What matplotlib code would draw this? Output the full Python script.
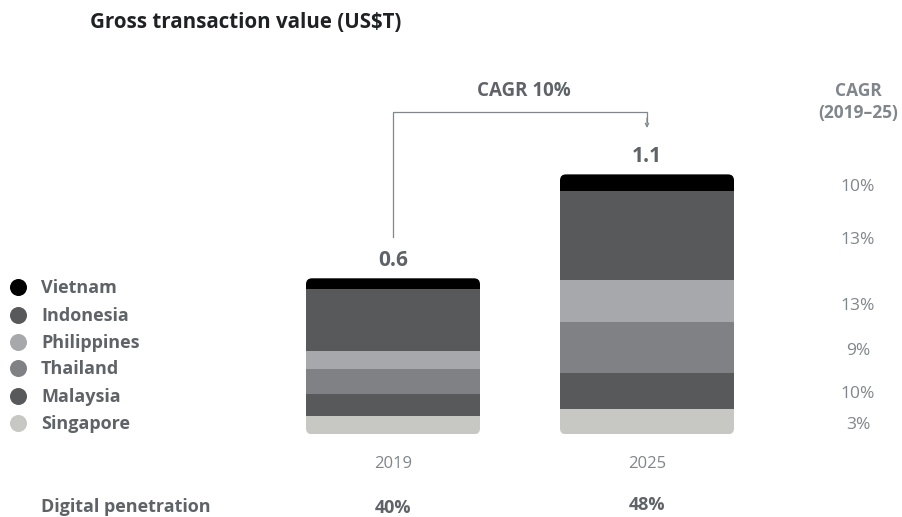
import matplotlib
matplotlib.use("Agg")
import matplotlib.pyplot as plt
from matplotlib.patches import FancyBboxPatch
import numpy as np

plt.rcParams['font.family'] = ['Open Sans', 'DejaVu Sans']

# ---- data ----
years = ["2019", "2025"]
countries = ["Singapore", "Malaysia", "Thailand", "Philippines", "Indonesia", "Vietnam"]  # bottom -> top
gtv_2019 = [0.076, 0.092, 0.104, 0.075, 0.258, 0.045]
gtv_2025 = [0.105, 0.151, 0.211, 0.175, 0.371, 0.070]
total_labels = ["0.6", "1.1"]
cagr_by_country = ["3%", "10%", "9%", "13%", "13%", "10%"]  # bottom -> top
overall_cagr = "CAGR 10%"
penetration = ["40%", "48%"]
colors = ["#c7c8c4", "#58595b", "#808184", "#a7a8ab", "#58595b", "#000000"]

W, H = 903, 517
fig = plt.figure(figsize=(W / 100, H / 100), dpi=100)
ax = fig.add_axes([0, 0, 1, 1])

# pixel mapping: x centers at 393 and 647 px, y=0 at 434.3 px from top, 240 px per unit
px_per_x = 254.0
px_per_y = 240.0
x0_px, y0_px = 393.0, 434.3
ax.set_xlim(-x0_px / px_per_x, (W - x0_px) / px_per_x)
ax.set_ylim(-(H - y0_px) / px_per_y, y0_px / px_per_y)
ax.axis("off")

def px(xp, yp):
    """convert pixel (from top-left) to data coords"""
    return ((xp - x0_px) / px_per_x, (y0_px - yp) / px_per_y)

xs = np.arange(len(years))
width = 174 / px_per_x
series = np.array([gtv_2019, gtv_2025]).T  # countries x years

bottoms = np.zeros(len(years))
bar_groups = []
for i, c in enumerate(countries):
    bars = ax.bar(xs, series[i], width, bottom=bottoms, color=colors[i], linewidth=0)
    bar_groups.append(bars)
    bottoms = bottoms + series[i]
totals = bottoms

# rounded clip per stacked bar
r = 6 / px_per_x
for j, x in enumerate(xs):
    clip = FancyBboxPatch((x - width / 2, 0), width, totals[j],
                          boxstyle=f"round,pad=0,rounding_size={r}",
                          mutation_aspect=px_per_x / px_per_y,
                          transform=ax.transData, facecolor="none", edgecolor="none")
    ax.add_patch(clip)
    for bars in bar_groups:
        bars[j].set_clip_path(clip)

dark = "#5f6368"
light = "#80868b"

# total labels
for j, x in enumerate(xs):
    ax.text(x, totals[j] + 18 / px_per_y, total_labels[j], ha="center", va="center",
            fontsize=15, fontweight="bold", color=dark)

# CAGR bracket
lx, ly = px(393, 237)
tx, ty = px(393, 111.5)
rx, ry = px(647, 111.5)
ax.plot([lx, tx, rx, rx], [ly, ty, ry, ry - 10 / px_per_y], color=light, lw=0.9,
        solid_joinstyle="miter")
ax.annotate("", xy=px(647, 128), xytext=px(647, 118),
            arrowprops=dict(arrowstyle="->", color=light, lw=0.9, shrinkA=0, shrinkB=0,
                            mutation_scale=6))
ax.text(*px(524, 91), overall_cagr, ha="center", va="center", fontsize=13.5,
        fontweight="bold", color=dark)

# title
ax.text(*px(90, 23), "Gross transaction value (US$T)", ha="left", va="center",
        fontsize=14.8, fontweight="bold", color="#202124")

# right column
ax.text(*px(858, 91), "CAGR", ha="center", va="center", fontsize=12.5,
        fontweight="bold", color=light)
ax.text(*px(858, 113), "(2019–25)", ha="center", va="center", fontsize=12.5,
        fontweight="bold", color=light)
cagr_y_px = [425, 394, 351, 306, 240, 187]
for lab, yp in zip(cagr_by_country, cagr_y_px):
    ax.text(*px(858, yp), lab, ha="center", va="center", fontsize=12.5, color=light)

# legend (top -> bottom)
leg_y = [287, 315, 342, 368, 396, 423]
for k, yp in enumerate(leg_y):
    idx = len(countries) - 1 - k
    cx, cy = px(18, yp)
    ax.scatter([cx], [cy], s=150, color=colors[idx], linewidths=0)
    ax.text(*px(41, yp + 1), countries[idx], ha="left", va="center", fontsize=13,
            fontweight="bold", color=dark)

# year labels
for j, x in enumerate(xs):
    ax.text(x, px(0, 464)[1], years[j], ha="center", va="center", fontsize=12, color=light)

# digital penetration
ax.text(*px(41, 507), "Digital penetration", ha="left", va="center", fontsize=13,
        fontweight="bold", color=dark)
pen_y = [508, 505]
for j, x in enumerate(xs):
    ax.text(x, px(0, pen_y[j])[1], penetration[j], ha="center", va="center",
            fontsize=13, fontweight="bold", color=dark)

fig.savefig("out.png", dpi=100)
